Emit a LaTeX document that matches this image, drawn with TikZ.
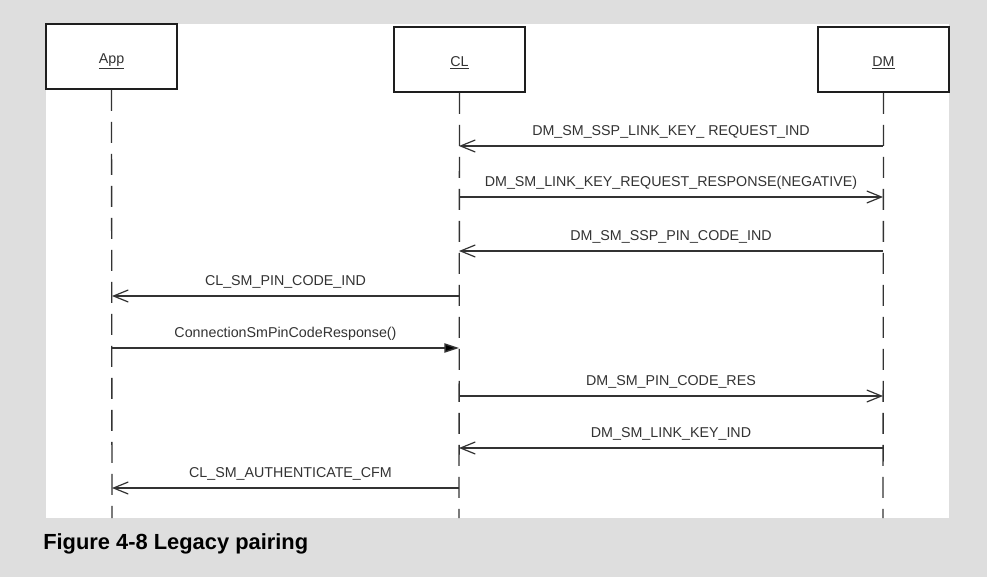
\documentclass[tikz,border=0pt]{standalone}
\usepackage{fontspec}
\setmainfont{Liberation Sans}
\usetikzlibrary{arrows.meta}
\definecolor{bggray}{HTML}{DEDEDE}
\definecolor{ink}{HTML}{333333}
\definecolor{boxink}{HTML}{1E1E1E}
\tikzset{
  lifebox/.style={draw=boxink, line width=1.4pt, fill=white, minimum width=98.25pt, minimum height=48.75pt, inner sep=0pt, text height=10.5pt, text depth=0pt, font=\fontsize{10.7}{12}\selectfont, text=ink},
  lifeline/.style={draw=ink, line width=1pt, dash pattern=on 15.75pt off 8.25pt},
  msg/.style={draw=ink, line width=1.1pt, -{Straight Barb[length=11pt, width=9pt, line width=0.9pt]}},
  call/.style={draw=ink, line width=1.1pt, -{Triangle[length=11pt, width=7pt, fill=black]}},
  lbl/.style={above=7.5pt, inner sep=0pt, text depth=0pt, font=\fontsize{10.7}{12}\selectfont, text=ink},
  caption/.style={anchor=base west, inner sep=0pt, font=\fontsize{16.4}{19}\selectfont\bfseries, text=black}
}
\begin{document}
\begin{tikzpicture}[x=0.75pt, y=-0.75pt]
  \useasboundingbox (0,0) rectangle (987,577);
  \fill[bggray] (0,0) rectangle (987,577);
  \fill[white] (46,24) rectangle (949,518);
  % lifeline boxes
  \node[lifebox] (App) at (111.5,56.5) {\underline{App}};
  \node[lifebox] (CL) at (459.5,59.5) {\underline{CL}};
  \node[lifebox] (DM) at (883.5,59.5) {\underline{DM}};
  % lifeline ends
  \coordinate (Append) at (112,518);
  \coordinate (CLend) at (459,518);
  \coordinate (DMend) at (883,518);
  \draw[lifeline] (App.south) -- (Append);
  \draw[lifeline] (CL.south) -- (CLend);
  \draw[lifeline] (DM.south) -- (DMend);
  % message anchor points on the lifelines
  \coordinate (dm1) at (883,146); \coordinate (cl1) at (459,146);
  \coordinate (cl2) at (459,197); \coordinate (dm2) at (883,197);
  \coordinate (dm3) at (883,251); \coordinate (cl3) at (459,251);
  \coordinate (cl4) at (459,296); \coordinate (app4) at (112,296);
  \coordinate (app5) at (112,348); \coordinate (cl5) at (459,348);
  \coordinate (cl6) at (459,396); \coordinate (dm6) at (883,396);
  \coordinate (dm7) at (883,448); \coordinate (cl7) at (459,448);
  \coordinate (cl8) at (459,488); \coordinate (app8) at (112,488);
  % messages
  \draw[msg] (dm1) -- node[lbl] {DM\_SM\_SSP\_LINK\_KEY\_ REQUEST\_IND} (cl1);
  \draw[msg] (cl2) -- node[lbl] {DM\_SM\_LINK\_KEY\_REQUEST\_RESPONSE(NEGATIVE)} (dm2);
  \draw[msg] (dm3) -- node[lbl] {DM\_SM\_SSP\_PIN\_CODE\_IND} (cl3);
  \draw[msg] (cl4) -- node[lbl] {CL\_SM\_PIN\_CODE\_IND} (app4);
  \draw[call] (app5) -- node[lbl] {ConnectionSmPinCodeResponse()} (cl5);
  \draw[msg] (cl6) -- node[lbl] {DM\_SM\_PIN\_CODE\_RES} (dm6);
  \draw[msg] (dm7) -- node[lbl] {DM\_SM\_LINK\_KEY\_IND} (cl7);
  \draw[msg] (cl8) -- node[lbl, xshift=3.75pt] {CL\_SM\_AUTHENTICATE\_CFM} (app8);
  % caption
  \node[caption] (cap) at (43,549) {Figure 4-8 Legacy pairing};
\end{tikzpicture}
\end{document}
